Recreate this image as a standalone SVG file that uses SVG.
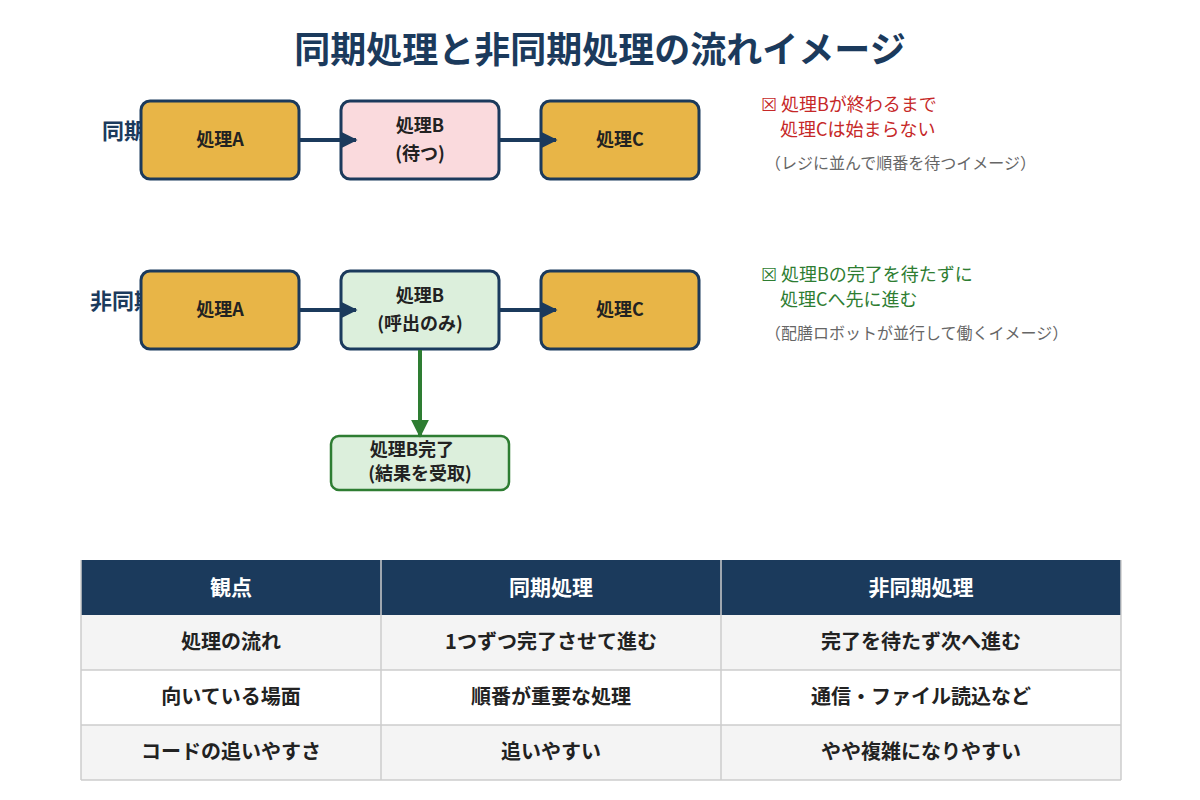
<svg xmlns="http://www.w3.org/2000/svg" width="1200" height="800" viewBox="0 0 1200 800">
<defs>
<marker id="ah" viewBox="0 0 10 10" refX="9" refY="5" markerWidth="4" markerHeight="4" orient="auto"><path d="M0,0L10,5L0,10z" fill="#1b3a5c"/></marker>
<marker id="ag" viewBox="0 0 10 10" refX="9" refY="5" markerWidth="4.5" markerHeight="4.5" orient="auto"><path d="M0,0L10,5L0,10z" fill="#2e7d32"/></marker>
<style>
text{font-family:"Noto Sans CJK JP","Noto Sans",sans-serif}
.box{stroke:#1b3a5c;stroke-width:3}
.y{fill:#e8b547}
.t{font-size:18px;font-weight:bold;fill:#222;text-anchor:middle}
.lab{font-size:22px;font-weight:bold;fill:#1b3a5c}
.th{font-size:21px;font-weight:bold;fill:#fff;text-anchor:middle}
.td{font-size:20px;font-weight:bold;fill:#222;text-anchor:middle}
.grid{stroke:#ccc;stroke-width:1.5}
</style>
</defs>
<rect width="1200" height="800" fill="#fff"/>
<text x="600" y="63" text-anchor="middle" font-size="36" font-weight="bold" fill="#1b3a5c">同期処理と非同期処理の流れイメージ</text>
<text class="lab" x="102" y="139">同期処理</text>
<text class="lab" x="90" y="309">非同期処理</text>
<g id="s1"><rect class="box y" x="141" y="101" width="158" height="78" rx="9"/><text class="t" x="220" y="146">処理A</text></g>
<g id="s2"><rect class="box" fill="#fadadd" x="341" y="101" width="158" height="78" rx="9"/><text class="t" x="420" y="132">処理B</text><text class="t" x="420" y="160">(待つ)</text></g>
<g id="s3"><rect class="box y" x="541" y="101" width="158" height="78" rx="9"/><text class="t" x="620" y="146">処理C</text></g>
<g id="a1"><rect class="box y" x="141" y="271" width="158" height="78" rx="9"/><text class="t" x="220" y="316">処理A</text></g>
<g id="a2"><rect class="box" fill="#dcefdc" x="341" y="271" width="158" height="78" rx="9"/><text class="t" x="420" y="302">処理B</text><text class="t" x="420" y="330">(呼出のみ)</text></g>
<g id="a3"><rect class="box y" x="541" y="271" width="158" height="78" rx="9"/><text class="t" x="620" y="316">処理C</text></g>
<g id="a4"><rect fill="#dcefdc" stroke="#2e7d32" stroke-width="2.5" x="331" y="436" width="178" height="54" rx="8"/><text class="t" x="412" y="456" font-size="15">処理B完了</text><text class="t" x="420" y="480" font-size="15">(結果を受取)</text></g>
<g id="connectors" stroke-width="4">
<line x1="300" y1="140" x2="356" y2="140" stroke="#1b3a5c" marker-end="url(#ah)"/>
<line x1="500" y1="140" x2="556" y2="140" stroke="#1b3a5c" marker-end="url(#ah)"/>
<line x1="300" y1="310" x2="356" y2="310" stroke="#1b3a5c" marker-end="url(#ah)"/>
<line x1="500" y1="310" x2="556" y2="310" stroke="#1b3a5c" marker-end="url(#ah)"/>
<line x1="420" y1="350" x2="420" y2="436" stroke="#2e7d32" marker-end="url(#ag)"/>
</g>
<g id="notes">
<text x="761" y="111" fill="#c62828" font-size="18">☒ 処理Bが終わるまで</text>
<text x="780" y="136" fill="#c62828" font-size="18">処理Cは始まらない</text>
<text x="765" y="169" fill="#666" font-size="16">（レジに並んで順番を待つイメージ）</text>
<text x="761" y="281" fill="#2e7d32" font-size="18">☒ 処理Bの完了を待たずに</text>
<text x="780" y="306" fill="#2e7d32" font-size="18">処理Cへ先に進む</text>
<text x="765" y="339" fill="#666" font-size="16">（配膳ロボットが並行して働くイメージ）</text>
</g>
<g id="table">
<rect x="81" y="560" width="1040" height="55" fill="#1b3a5c"/>
<rect x="81" y="615" width="1040" height="55" fill="#f4f4f4"/>
<rect x="81" y="670" width="1040" height="55" fill="#fff"/>
<rect x="81" y="725" width="1040" height="55" fill="#f4f4f4"/>
<g class="grid"><line x1="81" y1="670" x2="1121" y2="670"/><line x1="81" y1="725" x2="1121" y2="725"/><line x1="81" y1="780" x2="1121" y2="780"/><line x1="81" y1="560" x2="81" y2="780"/><line x1="1121" y1="560" x2="1121" y2="780"/><line x1="381" y1="560" x2="381" y2="780"/><line x1="721" y1="560" x2="721" y2="780"/></g>
<text class="th" x="231" y="595">観点</text><text class="th" x="551" y="595">同期処理</text><text class="th" x="921" y="595">非同期処理</text>
<text class="td" x="231" y="649">処理の流れ</text><text class="td" x="551" y="649">1つずつ完了させて進む</text><text class="td" x="921" y="649">完了を待たず次へ進む</text>
<text class="td" x="231" y="704">向いている場面</text><text class="td" x="551" y="704">順番が重要な処理</text><text class="td" x="921" y="704">通信・ファイル読込など</text>
<text class="td" x="231" y="759">コードの追いやすさ</text><text class="td" x="551" y="759">追いやすい</text><text class="td" x="921" y="759">やや複雑になりやすい</text>
</g>
</svg>
